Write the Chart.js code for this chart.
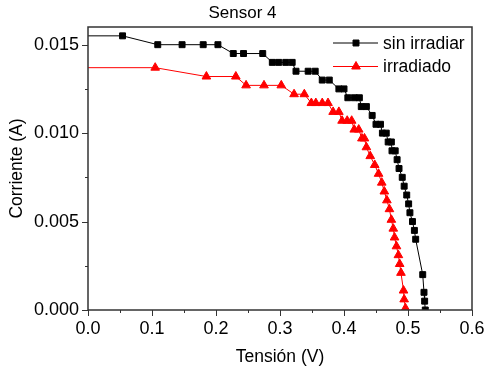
<!DOCTYPE html>
<html>
<head>
<meta charset="utf-8">
<script src="https://cdn.jsdelivr.net/npm/chart.js@4.4.0/dist/chart.umd.min.js"></script>
<style>
  html, body { margin: 0; padding: 0; background: #fff; }
</style>
</head>
<body>
<canvas id="chart" width="485" height="373"></canvas>
<script>
// datos (Tension en V, Corriente en A)
const vSinIrradiar = [0, 0.054, 0.109, 0.147, 0.180, 0.203, 0.227, 0.243, 0.273, 0.288, 0.298, 0.309, 0.319,
  0.325, 0.344, 0.355, 0.366, 0.377, 0.392, 0.400, 0.406, 0.416, 0.424, 0.427, 0.435, 0.444, 0.450, 0.457,
  0.460, 0.466, 0.469, 0.474, 0.475, 0.480, 0.483, 0.486, 0.491, 0.494, 0.498, 0.501, 0.503, 0.507, 0.510,
  0.512, 0.523, 0.525, 0.526, 0.527];
const iSinIrradiar = [0.0155, 0.0155, 0.015, 0.015, 0.015, 0.015, 0.0145, 0.0145, 0.0145, 0.014, 0.014, 0.014, 0.014,
  0.0135, 0.0135, 0.0135, 0.013, 0.013, 0.0125, 0.0125, 0.012, 0.012, 0.012, 0.0115, 0.0115, 0.011, 0.0105, 0.0105,
  0.010, 0.010, 0.0095, 0.0095, 0.009, 0.009, 0.0085, 0.008, 0.0075, 0.007, 0.0065, 0.006, 0.0055, 0.005, 0.0045,
  0.004, 0.002, 0.001, 0.0005, 0.0];

const vIrradiado = [0, 0.105, 0.185, 0.231, 0.247, 0.275, 0.302, 0.322, 0.338, 0.349, 0.356, 0.366, 0.375,
  0.383, 0.392, 0.397, 0.405, 0.412, 0.416, 0.423, 0.428, 0.432, 0.435, 0.441, 0.448, 0.454, 0.459, 0.463,
  0.467, 0.471, 0.474, 0.477, 0.479, 0.482, 0.485, 0.487, 0.489, 0.493, 0.494, 0.496];
const iIrradiado = [0.0137, 0.0137, 0.0132, 0.0132, 0.0127, 0.0127, 0.0127, 0.0122, 0.0122, 0.0117, 0.0117, 0.0117, 0.0117,
  0.0112, 0.0112, 0.0107, 0.0107, 0.0107, 0.0102, 0.0102, 0.0097, 0.0097, 0.0092, 0.0087, 0.0082, 0.0077, 0.0072, 0.0067,
  0.0062, 0.0057, 0.0051, 0.0046, 0.0041, 0.0036, 0.0031, 0.0026, 0.0021, 0.0011, 0.0006, 0.0001];

// ejes
const xTicks = [0, 0.1, 0.2, 0.3, 0.4, 0.5, 0.6];
const xMinor = [0.05, 0.15, 0.25, 0.35, 0.45, 0.55];
const yTicks = [0, 0.005, 0.010, 0.015];
const yMinor = [0.0025, 0.0075, 0.0125];

const FONT = '"Liberation Sans", Arial, sans-serif';
Chart.defaults.font.family = FONT;
Chart.defaults.color = '#000';

const toPoints = (xs, ys) => xs.map((x, i) => ({ x: x, y: ys[i] }));

// marco, marcas menores, titulo y leyenda
const decorPlugin = {
  id: 'decor',
  afterDatasetsDraw(chart) {
    const { ctx, chartArea: a, scales } = chart;
    const sx = scales.x, sy = scales.y;
    ctx.save();
    ctx.strokeStyle = '#333';
    ctx.lineWidth = 1;
    ctx.beginPath();
    xTicks.forEach(v => { const p = Math.round(sx.getPixelForValue(v)) + 0.5; ctx.moveTo(p, a.bottom); ctx.lineTo(p, a.bottom + 6); });
    xMinor.forEach(v => { const p = Math.round(sx.getPixelForValue(v)) + 0.5; ctx.moveTo(p, a.bottom); ctx.lineTo(p, a.bottom + 3); });
    yTicks.forEach(v => { const p = Math.round(sy.getPixelForValue(v)) + 0.5; ctx.moveTo(a.left, p); ctx.lineTo(a.left - 6, p); });
    yMinor.forEach(v => { const p = Math.round(sy.getPixelForValue(v)) + 0.5; ctx.moveTo(a.left, p); ctx.lineTo(a.left - 3, p); });
    ctx.stroke();
    ctx.lineWidth = 1.5;
    ctx.strokeRect(a.left, a.top, a.right - a.left, a.bottom - a.top);

    // titulo
    ctx.fillStyle = '#000';
    ctx.font = '17px ' + FONT;
    ctx.textAlign = 'center';
    ctx.textBaseline = 'middle';
    ctx.fillText('Sensor 4', chart.width / 2, 13);

    // leyenda
    ctx.textAlign = 'left';
    ctx.font = '17.5px ' + FONT;
    chart.data.datasets.forEach((ds, i) => {
      const y = 43 + i * 23.5;
      ctx.strokeStyle = ds.borderColor;
      ctx.lineWidth = 1;
      ctx.beginPath();
      ctx.moveTo(333, y);
      ctx.lineTo(378, y);
      ctx.stroke();
      ctx.fillStyle = ds.backgroundColor;
      Chart.helpers.drawPoint(ctx, {
        pointStyle: ds.pointStyle, radius: ds.legendRadius, borderWidth: 1, rotation: 0
      }, 356, y);
      ctx.fillStyle = '#000';
      ctx.fillText(ds.label, 383, y + 1);
    });
    ctx.restore();
  }
};

new Chart(document.getElementById('chart'), {
  type: 'scatter',
  data: {
    datasets: [
      {
        label: 'sin irradiar',
        data: toPoints(vSinIrradiar, iSinIrradiar),
        showLine: true,
        borderColor: '#000',
        backgroundColor: '#000',
        borderWidth: 1,
        pointStyle: 'rect',
        pointRadius: ctx => ctx.dataIndex === 0 ? 0 : 4.2,
        pointBorderWidth: 1,
        legendRadius: 4.2,
        clip: 0
      },
      {
        label: 'irradiado',
        data: toPoints(vIrradiado, iIrradiado),
        showLine: true,
        borderColor: '#ff0000',
        backgroundColor: '#ff0000',
        borderWidth: 1,
        pointStyle: 'triangle',
        pointRadius: ctx => ctx.dataIndex === 0 ? 0 : 5,
        pointBorderWidth: 1,
        legendRadius: 5,
        clip: 0
      }
    ]
  },
  options: {
    responsive: false,
    animation: false,
    layout: { padding: { left: 0, right: 13, top: 27, bottom: 0 } },
    plugins: { legend: { display: false }, tooltip: { enabled: false } },
    scales: {
      x: {
        type: 'linear',
        min: 0,
        max: 0.6,
        afterBuildTicks: s => { s.ticks = xTicks.map(v => ({ value: v })); },
        afterFit: s => { s.height = 63; s.paddingLeft = 0; s.paddingRight = 0; },
        grid: { display: false, drawTicks: false },
        border: { display: false },
        ticks: { padding: 8, font: { size: 18 }, callback: v => v.toFixed(1) },
        title: { display: true, text: 'Tensión (V)', font: { size: 17.5 }, padding: { top: 0, bottom: 5 } }
      },
      y: {
        type: 'linear',
        min: 0,
        max: 0.016,
        afterBuildTicks: s => { s.ticks = yTicks.map(v => ({ value: v })); },
        afterFit: s => { s.width = 88; s.paddingTop = 0; s.paddingBottom = 0; },
        grid: { display: false, drawTicks: false },
        border: { display: false },
        ticks: { padding: 9, font: { size: 18 }, callback: v => v.toFixed(3) },
        title: { display: true, text: 'Corriente (A)', font: { size: 17.5 }, padding: { top: 7, bottom: 0 } }
      }
    }
  },
  plugins: [decorPlugin]
});
</script>
</body>
</html>
